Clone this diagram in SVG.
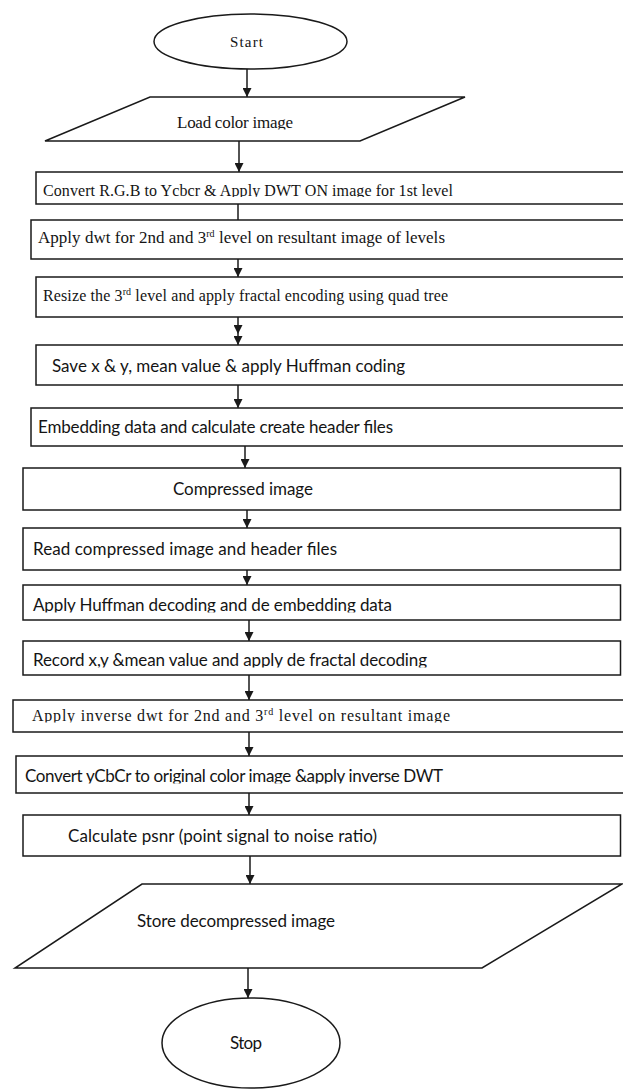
<svg xmlns="http://www.w3.org/2000/svg" width="623" height="1091" viewBox="0 0 623 1091">
<style>
  .shape{fill:#fff;stroke:#1a1a1a;stroke-width:1.5}
  .conn line{stroke:#1a1a1a;stroke-width:1.5}
  .serif{font-family:"Liberation Serif","Times New Roman",serif;fill:#141414}
  .sans{font-family:Lato,"Liberation Sans",sans-serif;fill:#141414}
  .sup{font-size:10px}
</style>
<defs>
  <marker id="ah" viewBox="0 0 10 10" refX="10" refY="5" markerWidth="9" markerHeight="9" markerUnits="userSpaceOnUse" orient="auto">
    <path d="M0,0 L10,5 L0,10 Z" fill="#1a1a1a"/>
  </marker>
  <clipPath id="c-load"><rect x="0" y="100" width="623" height="29.5"/></clipPath>
  <clipPath id="c-b1"><rect x="0" y="174" width="623" height="23"/></clipPath>
  <clipPath id="c-b8"><rect x="0" y="587" width="623" height="25.5"/></clipPath>
  <clipPath id="c-b9"><rect x="0" y="643" width="623" height="24.5"/></clipPath>
  <clipPath id="c-b10"><rect x="0" y="702" width="623" height="20.5"/></clipPath>
  <clipPath id="c-b11"><rect x="0" y="758" width="623" height="25.5"/></clipPath>
</defs>
<rect width="623" height="1091" fill="#fff"/>

<g id="connectors" class="conn">
  <line x1="247" y1="69" x2="247" y2="97" marker-end="url(#ah)"/>
  <line x1="239" y1="141" x2="239" y2="172" marker-end="url(#ah)"/>
  <line x1="238" y1="204" x2="238" y2="220"/>
  <line x1="238" y1="259" x2="238" y2="277" marker-end="url(#ah)"/>
  <line x1="238" y1="317" x2="238" y2="334" marker-end="url(#ah)"/>
  <line x1="238" y1="334" x2="238" y2="345" marker-end="url(#ah)"/>
  <line x1="238" y1="385" x2="238" y2="408" marker-end="url(#ah)"/>
  <line x1="245" y1="446" x2="245" y2="468" marker-end="url(#ah)"/>
  <line x1="247" y1="510" x2="247" y2="528" marker-end="url(#ah)"/>
  <line x1="247" y1="570" x2="247" y2="585" marker-end="url(#ah)"/>
  <line x1="249" y1="620" x2="249" y2="641" marker-end="url(#ah)"/>
  <line x1="249" y1="675" x2="249" y2="700" marker-end="url(#ah)"/>
  <line x1="249" y1="732" x2="249" y2="756" marker-end="url(#ah)"/>
  <line x1="249" y1="793" x2="249" y2="815" marker-end="url(#ah)"/>
  <line x1="250" y1="856" x2="250" y2="884" marker-end="url(#ah)"/>
  <line x1="248" y1="968" x2="248" y2="998" marker-end="url(#ah)"/>
</g>

<g id="start">
  <ellipse class="shape" cx="250.5" cy="41.5" rx="96.5" ry="27.5"/>
  <text class="serif" x="230" y="47" font-size="15" textLength="33">Start</text>
</g>

<g id="load">
  <polygon class="shape" points="150,97 465,97 360,141 45,141"/>
  <text class="serif" x="177" y="128" font-size="17" textLength="116" clip-path="url(#c-load)">Load color image</text>
</g>

<g id="convert-rgb">
  <rect class="shape" x="36" y="172" width="600" height="32"/>
  <text class="serif" x="43" y="196" font-size="16" textLength="410" clip-path="url(#c-b1)">Convert R.G.B to Ycbcr &amp; Apply DWT ON image for 1st level</text>
</g>

<g id="apply-dwt">
  <rect class="shape" x="31" y="220" width="600" height="39"/>
  <text class="serif" x="38" y="243" font-size="17" textLength="407">Apply dwt for 2nd and 3<tspan class="sup" dy="-6">rd</tspan><tspan dy="6"> level on resultant image of levels</tspan></text>
</g>

<g id="resize">
  <rect class="shape" x="36" y="277" width="600" height="40"/>
  <text class="serif" x="43" y="301" font-size="16" textLength="405">Resize the 3<tspan class="sup" dy="-6">rd</tspan><tspan dy="6"> level and apply fractal encoding using quad tree</tspan></text>
</g>

<g id="save">
  <rect class="shape" x="36" y="345" width="600" height="40"/>
  <text class="sans" x="52" y="372" font-size="17" textLength="353">Save x &amp; y, mean value &amp; apply Huffman coding</text>
</g>

<g id="embedding">
  <rect class="shape" x="31" y="408" width="600" height="38"/>
  <text class="sans" x="38" y="433" font-size="17" textLength="355">Embedding data and calculate create header files</text>
</g>

<g id="compressed">
  <rect class="shape" x="23" y="468" width="597.5" height="42"/>
  <text class="sans" x="173" y="495" font-size="17" textLength="140">Compressed image</text>
</g>

<g id="read">
  <rect class="shape" x="23" y="528" width="597.5" height="42"/>
  <text class="sans" x="33" y="555" font-size="17" textLength="304">Read compressed image and header files</text>
</g>

<g id="huffman-decode">
  <rect class="shape" x="23" y="585" width="597.5" height="35"/>
  <text class="sans" x="33" y="611" font-size="17" textLength="359" clip-path="url(#c-b8)">Apply Huffman decoding and de embedding data</text>
</g>

<g id="record">
  <rect class="shape" x="23" y="641" width="597.5" height="34"/>
  <text class="sans" x="33" y="666" font-size="17" textLength="394" clip-path="url(#c-b9)">Record x,y &amp;mean value and apply de fractal decoding</text>
</g>

<g id="inverse-dwt">
  <rect class="shape" x="13" y="700" width="620" height="32"/>
  <text class="serif" x="32" y="721" font-size="16" textLength="418" clip-path="url(#c-b10)">Apply inverse dwt for 2nd and 3<tspan class="sup" dy="-6">rd</tspan><tspan dy="6"> level on resultant  image</tspan></text>
</g>

<g id="convert-ycbcr">
  <rect class="shape" x="16" y="756" width="620" height="37"/>
  <text class="sans" x="25" y="782" font-size="17" textLength="418" clip-path="url(#c-b11)">Convert yCbCr to original color image &amp;apply inverse DWT</text>
</g>

<g id="psnr">
  <rect class="shape" x="23" y="815" width="597.5" height="41"/>
  <text class="sans" x="68" y="842" font-size="17" textLength="309">Calculate psnr (point signal to noise ratio)</text>
</g>

<g id="store">
  <polygon class="shape" points="142,884 622,884 482,968 15,968"/>
  <text class="sans" x="137" y="927" font-size="17" textLength="198">Store decompressed image</text>
</g>

<g id="stop">
  <ellipse class="shape" cx="251" cy="1043" rx="89" ry="45"/>
  <text class="sans" x="230" y="1049" font-size="17" textLength="32">Stop</text>
</g>
</svg>
